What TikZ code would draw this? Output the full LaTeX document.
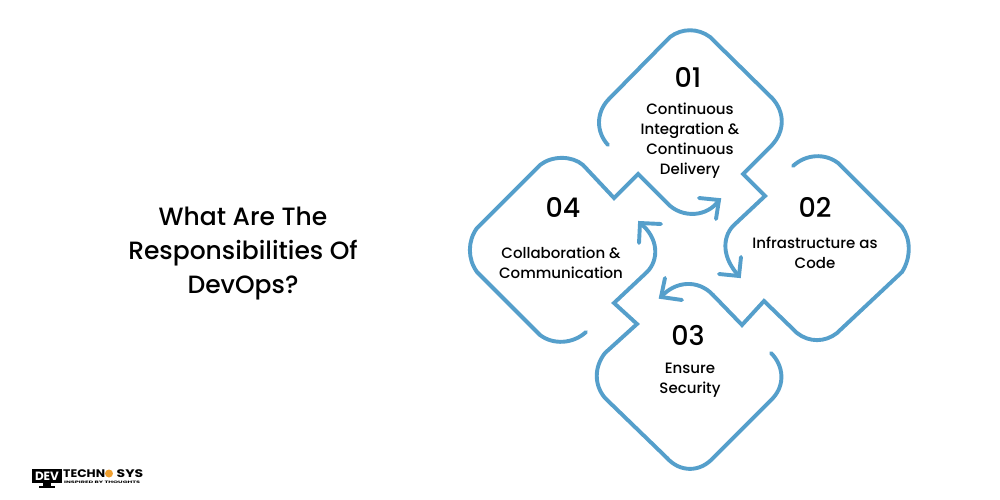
\documentclass[tikz,border=0pt]{standalone}
\usepackage{fontspec}
\setmainfont{Poppins}[UprightFont={* Medium},BoldFont={* Bold}]
\definecolor{loop}{HTML}{559FCB}
\definecolor{gearc}{HTML}{F0A030}
\tikzset{
  x=1pt,y=-1pt,
  loopline/.style={draw=loop,line width=3.9pt,line cap=round,line join=miter,miter limit=10},
  barb/.style={draw=loop,line width=3.9pt,line cap=round,line join=miter},
  numtext/.style={font=\fontsize{27}{30}\selectfont,text=black,inner sep=0pt},
  bodytext/.style={font=\fontsize{15}{20}\selectfont,text=black,align=center,inner sep=0pt},
  titletext/.style={font=\fontsize{25}{34}\selectfont,text=black,align=center,inner sep=0pt},
  logobig/.style={font=\fontsize{11}{11}\selectfont\bfseries,text=black,inner sep=0pt,anchor=west},
}
\begin{document}
\begin{tikzpicture}
\useasboundingbox[fill=white] (0,0) rectangle (1000,500);
% loop 01
\path[loopline] (608,145) .. controls (596,132) and (596,113) .. (608,100)
  -- (670,37) .. controls (682,28) and (698,28) .. (710,37)
  -- (772,98) .. controls (785,112) and (785,131) .. (772,145)
  -- (743,174) -- (765,196) -- (733,226)
  .. controls (722,238) and (722,258) .. (739,276);
\path[barb] (719,274) -- (739,276) -- (741,257);
% loop 02
\path[loopline] (793,166) .. controls (806,154) and (825,153) .. (838,163)
  -- (902,227) .. controls (911,239) and (911,258) .. (902,272)
  -- (837,333) .. controls (825,342.5) and (809,342.5) .. (797,333)
  -- (764,301) -- (742,325) -- (713,295)
  .. controls (698,279) and (675,281) .. (661,297);
\path[barb] (665,278) -- (661,297) -- (682,300);
% loop 03
\path[loopline] (771,353) .. controls (784,366) and (785,385) .. (773,398)
  -- (713,458) .. controls (700,472.5) and (680,472.5) .. (667,458)
  -- (605,398) .. controls (594,385) and (594,367) .. (605,353)
  -- (637,324) -- (614,303) -- (647,272)
  .. controls (659,260) and (659,238) .. (640,223);
\path[barb] (661,224) -- (640,223) -- (639,243);
% loop 04
\path[loopline] (586,332) .. controls (573,344) and (553,345) .. (540,335)
  -- (477,272) .. controls (467.5,259) and (467.5,241) .. (477,228)
  -- (540,165) .. controls (552,155.5) and (572,155.5) .. (583,165)
  -- (614,198) -- (638,174) -- (667,203)
  .. controls (682,219) and (708,217) .. (719,200);
\path[barb] (699,198) -- (719,200) -- (716,219);
% texts
\node[titletext] (title) at (243,254) {What Are The\\Responsibilities Of\\DevOps?};
\node[numtext] (n1) at (688,77) {01};
\node[numtext] (n2) at (815,207) {02};
\node[numtext] (n3) at (688,335) {03};
\node[numtext] (n4) at (563,207) {04};
\node[bodytext] (t1) at (690,141) {Continuous\\Integration \&\\Continuous\\Delivery};
\node[bodytext] (t2) at (815,253) {Infrastructure as\\Code};
\node[bodytext] (t3) at (690,380) {Ensure\\Security};
\node[bodytext] (t4) at (561,263) {Collaboration \&\\Communication};
% logo
\fill[black] (32,469) rectangle (62,483);
\fill[black] (43,483) rectangle (51,486);
\fill[black] (39,486) rectangle (55,487.5);
\node[font=\fontsize{12}{12}\selectfont\bfseries,text=white,inner sep=0pt] (lg1) at (47,476) {DEV};
\node[logobig] (lg2) at (63,473.5) {\scalebox{1.13}[1]{TECHN}};
\node[circle,fill=gearc,minimum size=8pt,inner sep=0pt] (lg3) at (109,473.5) {};
\node[logobig] (lg4) at (116.5,473.5) {\scalebox{1.27}[1]{SYS}};
\node[font=\fontsize{3.4}{3.4}\selectfont\bfseries,text=black,inner sep=0pt,anchor=west] (lg5) at (64,482) {\scalebox{1.9}[1]{INSPIRED BY THOUGHTS}};
\end{tikzpicture}
\end{document}
